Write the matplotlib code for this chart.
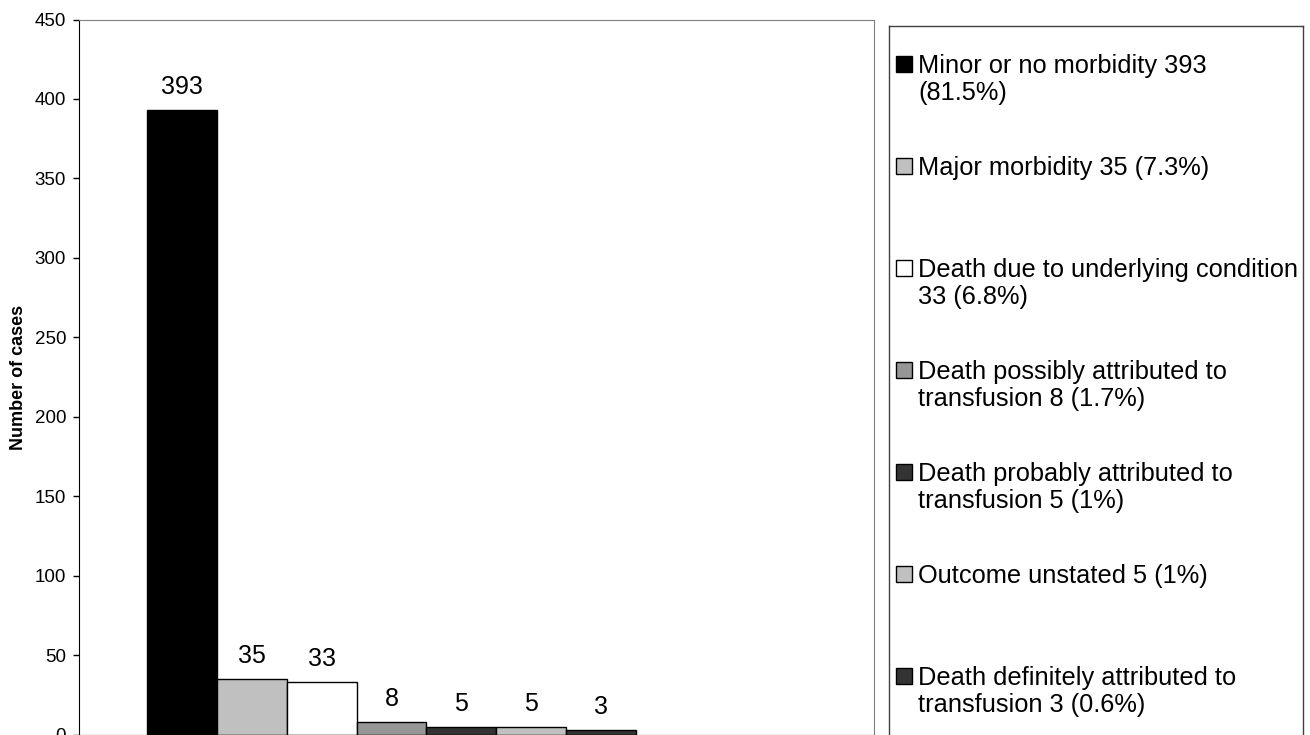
import matplotlib
matplotlib.use("Agg")
import matplotlib.pyplot as plt
from matplotlib.patches import Rectangle

plt.rcParams['font.family'] = ['Liberation Sans', 'DejaVu Sans']

# outcome categories, in the order of the bars
outcomes = [
    "Minor or no morbidity 393\n(81.5%)",
    "Major morbidity 35 (7.3%)",
    "Death due to underlying condition\n33 (6.8%)",
    "Death possibly attributed to\ntransfusion 8 (1.7%)",
    "Death probably attributed to\ntransfusion 5 (1%)",
    "Outcome unstated 5 (1%)",
    "Death definitely attributed to\ntransfusion 3 (0.6%)",
]
cases = [393, 35, 33, 8, 5, 5, 3]
colors = ["#000000", "#c0c0c0", "#ffffff", "#969696", "#333333", "#c0c0c0", "#333333"]
yticks = [0, 50, 100, 150, 200, 250, 300, 350, 400, 450]

W, H = 1310, 735
fig = plt.figure(figsize=(W / 100, H / 100), dpi=100)

# main plot area
ax = fig.add_axes([79 / W, 0.5 / H, (874 - 79) / W, (734.5 - 19.5) / H])
xs = list(range(len(cases)))
ax.bar(xs, cases, width=1.0, color=colors, edgecolor="black", linewidth=1.0, zorder=2)
for x, v in zip(xs, cases):
    ax.annotate(str(v), (x, v), xytext=(0, 16), textcoords="offset pixels",
                ha="center", va="baseline", fontsize=18)

ax.set_xlim(-1.473, 9.905)
ax.set_ylim(0, 450)
ax.set_yticks(yticks)
ax.set_xticks([])
ax.tick_params(axis="y", direction="out", length=4.3, width=1, labelsize=13.5, pad=5)
ax.spines["top"].set_color("#808080")
ax.spines["right"].set_color("#808080")
ax.spines["left"].set_color("black")
ax.spines["bottom"].set_color("black")
ax.set_ylabel("Number of cases", fontsize=13, fontweight="bold")
ax.yaxis.set_label_coords(-0.066, 0.5)

# legend box, drawn in pixel coordinates
lg = fig.add_axes([889 / W, -5 / H, (1303 - 889) / W, (735 - 26 + 5) / H])
lg.set_xlim(889, 1303)
lg.set_ylim(740, 26)
lg.set_xticks([])
lg.set_yticks([])
for s in lg.spines.values():
    s.set_color("#404040")
    s.set_linewidth(1.0)

for i, (label, c) in enumerate(zip(outcomes, colors)):
    base = 73 + 102 * i
    lg.add_patch(Rectangle((896, base - 16.5), 16, 16, facecolor=c,
                           edgecolor="black", linewidth=1.0))
    for k, line in enumerate(label.split("\n")):
        lg.text(918, base + 27 * k, line, fontsize=18.3, va="baseline", ha="left")

fig.savefig("out.png", dpi=100)
